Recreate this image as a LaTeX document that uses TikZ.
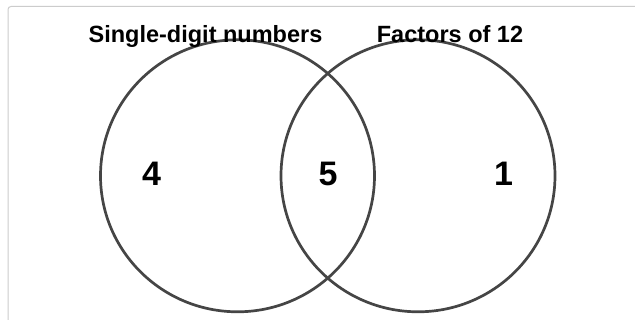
\documentclass[tikz,border=0pt]{standalone}
\usepackage{fontspec}
\setmainfont{Liberation Sans}
\usetikzlibrary{shapes.geometric}
\tikzset{
  setring/.style={draw=black!73, line width=2.7pt, ellipse, minimum width=274pt, minimum height=272pt, inner sep=0pt},
  settitle/.style={anchor=base, inner sep=0pt, font=\fontsize{23.5}{27}\selectfont\bfseries},
  setcount/.style={anchor=base, inner sep=0pt, font=\fontsize{34}{38}\selectfont\bfseries},
  framebox/.style={draw=black!20, line width=1pt, rounded corners=3pt}
}
\begin{document}
\begin{tikzpicture}[x=1pt,y=-1pt]
\useasboundingbox (0,0) rectangle (635,320);
\clip (0,0) rectangle (635,320);
\fill[white] (0,0) rectangle (635,320);
\draw[framebox] (8,340) -- (8,6.5) -- (660,6.5);
\node[setring] (A) at (237.5,175.8) {};
\node[setring] (B) at (418,175.8) {};
\node[settitle] (tA) at (205.5,42.3) {Single-digit numbers};
\node[settitle] (tB) at (450,42.3) {Factors of 12};
\node[setcount] (nA) at (151.5,185.7) {4};
\node[setcount] (nAB) at (328,185.7) {5};
\node[setcount] (nB) at (503.5,185.7) {1};
\end{tikzpicture}
\end{document}
